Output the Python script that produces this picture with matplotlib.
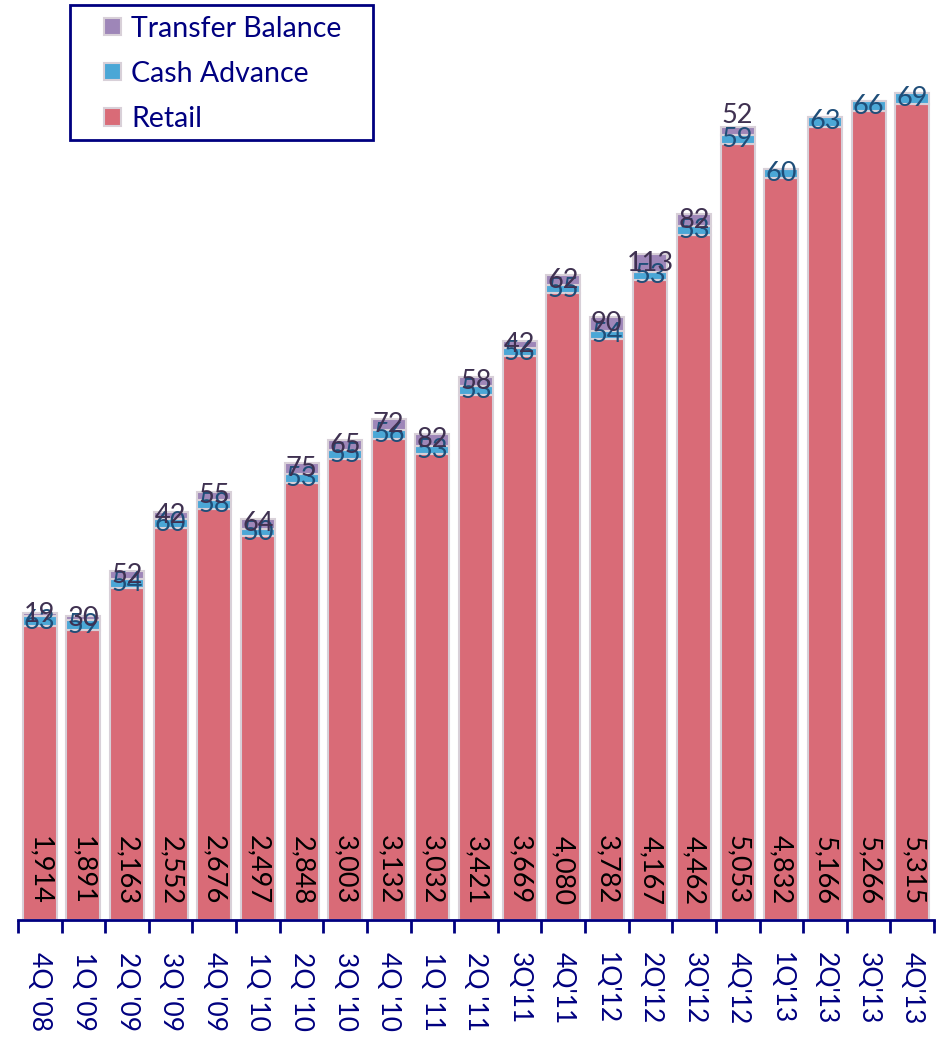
import matplotlib.pyplot as plt
import numpy as np
from matplotlib.patches import Rectangle
from matplotlib.container import BarContainer
from matplotlib.legend_handler import HandlerPatch, update_from_first_child

quarters = ["4Q '08", "1Q '09", "2Q '09", "3Q '09", "4Q '09", "1Q '10", "2Q '10",
            "3Q '10", "4Q '10", "1Q '11", "2Q '11", "3Q'11", "4Q'11", "1Q'12",
            "2Q'12", "3Q'12", "4Q'12", "1Q'13", "2Q'13", "3Q'13", "4Q'13"]
retail = [1914, 1891, 2163, 2552, 2676, 2497, 2848, 3003, 3132, 3032, 3421,
          3669, 4080, 3782, 4167, 4462, 5053, 4832, 5166, 5266, 5315]
cash_advance = [63, 59, 54, 60, 58, 50, 53, 55, 56, 53, 53,
                56, 55, 54, 53, 53, 59, 60, 63, 66, 69]
transfer = [19, 30, 52, 42, 55, 64, 75, 65, 72, 82, 58,
            42, 62, 90, 113, 82, 52, 0, 0, 0, 0]

plt.rcParams['font.family'] = ['Lato', 'DejaVu Sans']
navy = '#000080'
c_retail = '#D96B77'
c_cash = '#4BA7D6'
c_tb = '#9E86B8'

fig = plt.figure(figsize=(9.45, 10.37), dpi=100)
ax = fig.add_axes([18 / 945, 1 - 920 / 1037, 916 / 945, 920 / 1037])

x = np.arange(len(quarters))
retail = np.array(retail)
cash_advance = np.array(cash_advance)
transfer = np.array(transfer)
w = 0.78
edge = dict(edgecolor='#D8D0D8', linewidth=1.5)

ax.bar(x, retail, w, color=c_retail, label='Retail', **edge)
ax.bar(x, cash_advance, w, bottom=retail, color=c_cash, label='Cash Advance', **edge)
ax.bar(x, transfer, w, bottom=retail + cash_advance, color=c_tb,
       label='Transfer Balance', **edge)

fs = 19.5
for i in x:
    ax.annotate(f'{retail[i]:,}', (i, 0), xytext=(0, 11), textcoords='offset points',
                rotation=270, ha='center', va='bottom', fontsize=fs, color='black')
    ax.text(i, retail[i] + cash_advance[i] / 2, str(cash_advance[i]), ha='center',
            va='center', fontsize=fs, color='#1F4E79')
    if transfer[i] > 0:
        y = retail[i] + cash_advance[i] + transfer[i] / 2
        if i == 16:
            y += 100
        ax.text(i, y, str(transfer[i]), ha='center', va='center', fontsize=fs,
                color='#3F3151')

ax.set_xlim(-0.5, len(quarters) - 0.5)
ax.set_ylim(0, 920 / 0.1536)
ax.set_yticks([])
for s in ['top', 'right', 'left']:
    ax.spines[s].set_visible(False)
ax.spines['bottom'].set_color(navy)
ax.spines['bottom'].set_linewidth(2)

ax.set_xticks(x)
ax.set_xticklabels(quarters, rotation=270, fontsize=19, color=navy, va='top')
ax.tick_params(axis='x', which='major', length=0, pad=23)
ax.set_xticks(np.arange(-0.5, len(quarters)), minor=True)
ax.tick_params(axis='x', which='minor', length=9, width=2, color=navy)


def square(legend, orig_handle, xdescent, ydescent, width, height, fontsize):
    sq = 0.62 * fontsize
    return Rectangle((-xdescent + (width - sq) / 2, -ydescent + (height - sq) / 2), sq, sq)


# legend: frameless, with a hand-placed box around it
h, l = ax.get_legend_handles_labels()
leg = fig.legend(h[::-1], l[::-1], loc='upper left', bbox_to_anchor=(95 / 945, 1 - 7 / 1037),
                 fontsize=20.5, frameon=False, handlelength=0.62,
                 labelspacing=0.67, borderpad=0.3, handletextpad=0.35, borderaxespad=0,
                 handler_map={BarContainer: HandlerPatch(patch_func=square,
                                                         update_func=update_from_first_child)})
for t in leg.get_texts():
    t.set_color(navy)
fig.patches.append(Rectangle((70 / 945, 1 - 140 / 1037), 303 / 945, 135 / 1037,
                             transform=fig.transFigure, fill=False, edgecolor=navy,
                             linewidth=2, zorder=5))

fig.savefig('out.png', dpi=100)
